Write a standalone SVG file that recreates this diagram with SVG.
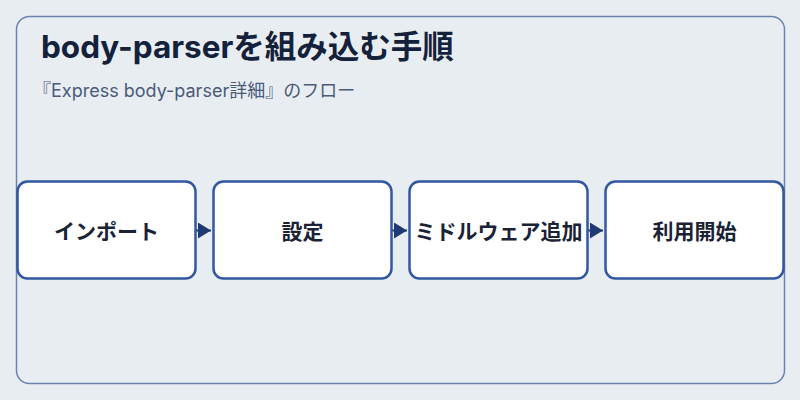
<svg xmlns="http://www.w3.org/2000/svg" width="800" height="400" viewBox="0 0 800 400">
<defs>
<style>
.node rect{fill:#ffffff;stroke:#3158a0;stroke-width:2.5}
.node text{font-family:Inter,"Noto Sans CJK JP",sans-serif;font-weight:700;font-size:21px;fill:#1a2235;text-anchor:middle;dominant-baseline:central}
.conn path{stroke:#1f3a73;stroke-width:2;fill:none;marker-end:url(#arr)}
</style>
<marker id="arr" viewBox="0 0 10 10" refX="10" refY="5" markerWidth="13" markerHeight="16" markerUnits="userSpaceOnUse" orient="auto" preserveAspectRatio="none">
<path d="M0,0 L10,5 L0,10 Z" fill="#1f3a73"/>
</marker>
</defs>
<rect width="800" height="400" fill="#e8edf2"/>
<rect x="16.5" y="16.5" width="768" height="367" rx="13" fill="#e8edf2" stroke="#6a83b0" stroke-width="1.5"/>
<text x="41" y="58" font-family="Inter,'Noto Sans CJK JP',sans-serif" font-weight="700" font-size="31.5" fill="#14213a">body-parserを組み込む手順</text>
<text x="33" y="97" font-family="Inter,'Noto Sans CJK JP',sans-serif" font-size="18" fill="#4a5a78">『Express body-parser詳細』のフロー</text>
<g class="conn" id="connectors">
<path d="M196,230.5 L211,230.5"/>
<path d="M392,230.5 L407,230.5"/>
<path d="M588,230.5 L603,230.5"/>
</g>
<g class="node" id="node-import">
<rect x="17.5" y="181.5" width="178" height="97" rx="10"/>
<text x="106.5" y="231.5">インポート</text>
</g>
<g class="node" id="node-settings">
<rect x="213.5" y="181.5" width="178" height="97" rx="10"/>
<text x="302.5" y="231.5">設定</text>
</g>
<g class="node" id="node-middleware">
<rect x="409.5" y="181.5" width="178" height="97" rx="10"/>
<text x="498.5" y="231.5">ミドルウェア追加</text>
</g>
<g class="node" id="node-use">
<rect x="605.5" y="181.5" width="178" height="97" rx="10"/>
<text x="694.5" y="231.5">利用開始</text>
</g>
</svg>
